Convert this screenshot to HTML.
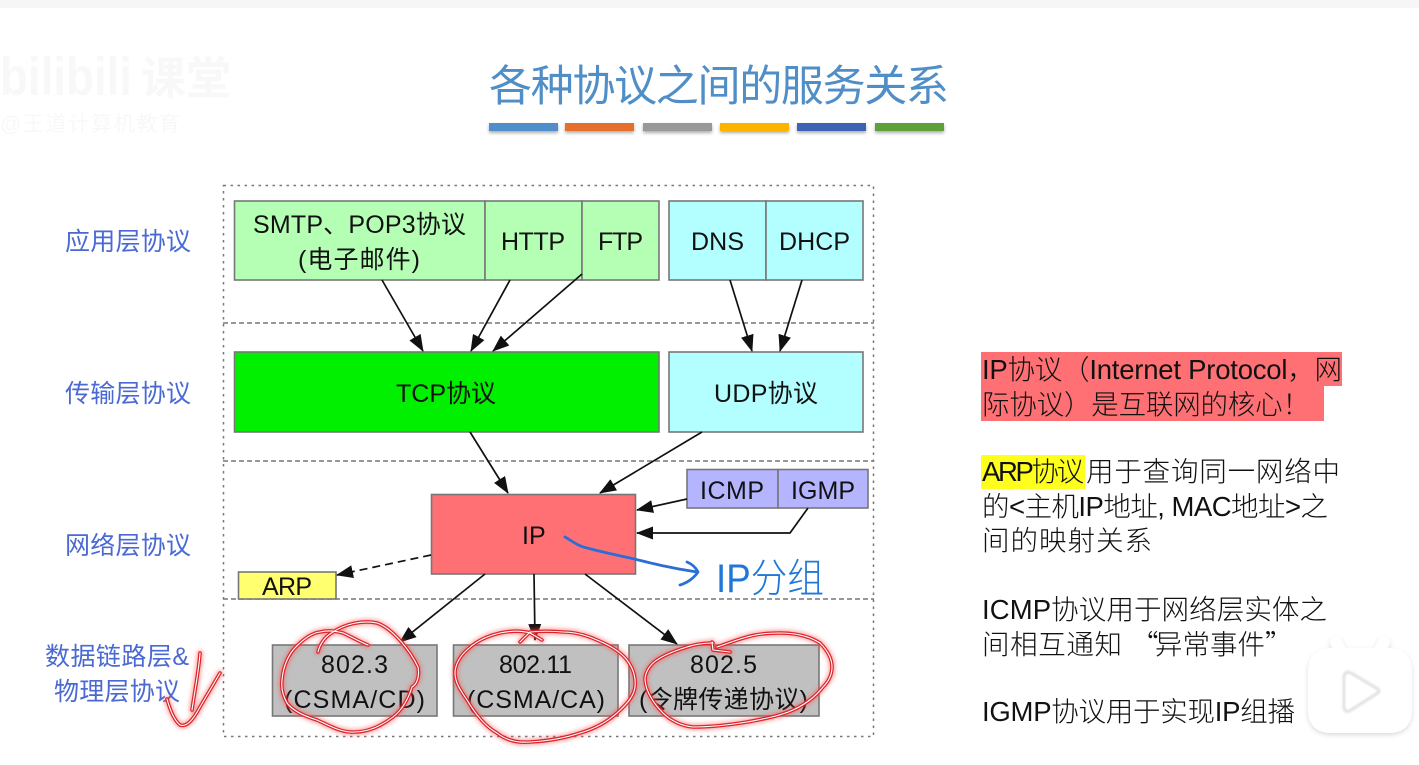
<!DOCTYPE html>
<html><head><meta charset="utf-8"><style>
html,body{margin:0;padding:0;background:#fff;width:1419px;height:765px;overflow:hidden}
svg{display:block}
text{font-family:"Liberation Sans","Noto Sans CJK SC",sans-serif}
.b{font-size:25px;fill:#111}
.l{font-size:25px;fill:#4a69d2}
.r{font-size:27.500px;fill:#111;font-weight:300}
.box{stroke:#777;stroke-width:1.6}
.ln{stroke:#111;stroke-width:1.7;fill:none}
.ink{fill:none;stroke-linecap:round;stroke-linejoin:round}
</style></head><body>
<svg width="1419" height="765" viewBox="0 0 1419 765" xmlns="http://www.w3.org/2000/svg">
<defs>
<marker id="a" viewBox="0 0 17 13" refX="16" refY="6.500" markerWidth="17" markerHeight="13" markerUnits="userSpaceOnUse" orient="auto"><path d="M0,0L17,6.500L0,13z" fill="#111"/></marker>
<filter id="gl" x="-20%" y="-20%" width="140%" height="140%"><feGaussianBlur stdDeviation="2"/></filter>
<filter id="sh" x="-10%" y="-50%" width="120%" height="250%"><feGaussianBlur stdDeviation="1.5"/></filter>
<filter id="tv" x="-20%" y="-20%" width="140%" height="140%"><feDropShadow dx="0" dy="2" stdDeviation="2.500" flood-color="#000" flood-opacity=".14"/></filter>
<filter id="tri" x="-30%" y="-30%" width="160%" height="160%"><feGaussianBlur stdDeviation="1.200"/></filter>
<path id="c1" d="M318,652C320,643 326,636 333,632C345,624 362,620 377,623C392,628 410,650 418,667C420,678 416,685 412,687C408,700 402,710 393,717C380,727 365,733 350,732C338,731 328,725 317,720C304,716 293,711 287,703C283,696 281,688 282,680C283,668 287,658 293,650C302,640 311,633 320,632C328,630 336,631 343,633C352,637 360,642 368,645"/>
<path id="c2" d="M542,640L530,633C520,630 510,631 500,633C487,636 475,642 467,650C460,656 455,665 455,673C455,683 461,691 467,700C476,715 486,727 497,733C507,741 518,743 530,742C548,741 565,738 580,733C594,729 607,722 617,713C627,704 634,696 635,687C636,677 633,668 627,660C620,651 609,645 597,640C586,635 575,632 563,632C552,631 541,631 530,632L520,642"/>
<path id="c3" d="M730,652L713,650L712,642L713,643C704,643 696,644 687,647C674,651 661,656 653,663C648,668 645,674 645,680C646,692 654,704 663,713C671,721 682,726 693,727C711,727 729,725 747,722C763,719 780,716 793,710C806,704 816,696 823,687C829,681 832,674 832,667C832,658 827,650 820,643C809,636 795,633 780,633C768,633 757,634 747,637C736,640 726,644 717,647"/>
<path id="c4" d="M167,699C170,710 174,720 180,725C186,727 192,722 200,707C207,695 214,683 220,673M200,653C199,670 194,695 192,710"/>
</defs>

<rect width="1419" height="8" fill="#f6f6f6"/>

<!-- watermark -->
<text x="0" y="95" font-size="54" font-weight="700" fill="#f8f8f8" textLength="132" lengthAdjust="spacingAndGlyphs">bilibili</text>
<text x="141" y="94" font-size="45" font-weight="700" fill="#f8f8f8" textLength="90">课堂</text>
<text x="0" y="131" font-size="21" fill="#f8f8f8" textLength="180">@王道计算机教育</text>

<!-- title -->
<text x="489" y="101" font-size="43" fill="#4f8ec6" font-weight="400" textLength="460">各种协议之间的服务关系</text>
<g filter="url(#sh)" fill="#888" opacity=".7">
<rect x="489" y="125" width="69" height="8"/><rect x="565" y="125" width="69" height="8"/><rect x="643" y="125" width="69" height="8"/><rect x="720" y="125" width="69" height="8"/><rect x="797" y="125" width="69" height="8"/><rect x="875" y="125" width="69" height="8"/>
</g>
<rect x="489" y="123" width="69" height="8" fill="#4e8ecb"/>
<rect x="565" y="123" width="69" height="8" fill="#e3702c"/>
<rect x="643" y="123" width="69" height="8" fill="#999"/>
<rect x="720" y="123" width="69" height="8" fill="#fdb400"/>
<rect x="797" y="123" width="69" height="8" fill="#3d63b6"/>
<rect x="875" y="123" width="69" height="8" fill="#5fa03c"/>

<!-- frames -->
<rect x="223.500" y="185.500" width="650" height="551" fill="none" stroke="#777" stroke-width="1.5" stroke-dasharray="2.500 4.500"/>
<g stroke="#777" stroke-width="1.500" stroke-dasharray="5 3">
<line x1="223" y1="323" x2="874" y2="323"/><line x1="223" y1="461" x2="874" y2="461"/><line x1="223" y1="599" x2="874" y2="599"/>
</g>

<!-- layer labels -->
<text class="l" x="65" y="250" textLength="126">应用层协议</text>
<text class="l" x="65" y="402" textLength="126">传输层协议</text>
<text class="l" x="65" y="554" textLength="126">网络层协议</text>
<text class="l" x="45" y="665" textLength="144">数据链路层&amp;</text>
<text class="l" x="54" y="700" textLength="126">物理层协议</text>

<!-- boxes -->
<g class="box">
<rect x="234.500" y="201" width="250.500" height="79" fill="#b5ffb5"/>
<rect x="485" y="201" width="97" height="79" fill="#b5ffb5"/>
<rect x="582" y="201" width="77" height="79" fill="#b5ffb5"/>
<rect x="669" y="201" width="97" height="79" fill="#b3ffff"/>
<rect x="766" y="201" width="97" height="79" fill="#b3ffff"/>
<rect x="234.500" y="352" width="424.500" height="80" fill="#00f000"/>
<rect x="669" y="352" width="194" height="80" fill="#b3ffff"/>
<rect x="431.500" y="494.500" width="204" height="79.500" fill="#ff7074"/>
<rect x="687" y="469.500" width="91" height="38.500" fill="#b4b4ff"/>
<rect x="778" y="469.500" width="90" height="38.500" fill="#b4b4ff"/>
<rect x="238.500" y="572" width="97.500" height="27" fill="#ffff70"/>
<rect x="272.500" y="645" width="164.500" height="71" fill="#c0c0c0"/>
<rect x="453.500" y="645" width="164.500" height="71" fill="#c0c0c0"/>
<rect x="629" y="645" width="190" height="71" fill="#c0c0c0"/>
</g>

<!-- box text -->
<text class="b" x="253" y="233" textLength="213">SMTP、POP3协议</text>
<text class="b" x="298" y="268" textLength="122">(电子邮件)</text>
<text class="b" x="501" y="250" textLength="64">HTTP</text>
<text class="b" x="598" y="250" textLength="45">FTP</text>
<text class="b" x="691" y="250" textLength="53">DNS</text>
<text class="b" x="779" y="250" textLength="71">DHCP</text>
<text class="b" x="396" y="402" textLength="100">TCP协议</text>
<text class="b" x="714" y="402" textLength="104">UDP协议</text>
<text class="b" x="522" y="544">IP</text>
<text class="b" x="700" y="499" textLength="64">ICMP</text>
<text class="b" x="791" y="499" textLength="64">IGMP</text>
<text class="b" x="262" y="595" textLength="50">ARP</text>
<text class="b" x="321" y="673" textLength="67">802.3</text>
<text class="b" x="284" y="708" textLength="141">(CSMA/CD)</text>
<text class="b" x="499" y="673" textLength="73">802.11</text>
<text class="b" x="467" y="708" textLength="138">(CSMA/CA)</text>
<text class="b" x="690" y="673" textLength="67">802.5</text>
<text class="b" x="639" y="708" textLength="169">(令牌传递协议)</text>

<!-- arrows -->
<g class="ln">
<line x1="382" y1="280" x2="423" y2="351" marker-end="url(#a)"/>
<line x1="510" y1="280" x2="471" y2="351" marker-end="url(#a)"/>
<line x1="582" y1="274" x2="493" y2="351" marker-end="url(#a)"/>
<line x1="730" y1="280" x2="752" y2="351" marker-end="url(#a)"/>
<line x1="802" y1="280" x2="780" y2="351" marker-end="url(#a)"/>
<line x1="470" y1="432" x2="508" y2="493" marker-end="url(#a)"/>
<line x1="702" y1="432" x2="600" y2="493" marker-end="url(#a)"/>
<line x1="687" y1="499" x2="637" y2="510" marker-end="url(#a)"/>
<polyline points="808,508 790,533 637,533" marker-end="url(#a)"/>
<line x1="485" y1="574" x2="400" y2="642" marker-end="url(#a)"/>
<line x1="534" y1="574" x2="535" y2="640" marker-end="url(#a)"/>
<line x1="585" y1="574" x2="677" y2="644" marker-end="url(#a)"/>
<line x1="431" y1="555" x2="337" y2="575" stroke-dasharray="8 5" marker-end="url(#a)"/>
</g>

<!-- blue ink -->
<path class="ink" d="M565,537C572,541 578,546 587,548C602,552 616,555 630,558C650,563 670,568 697,572M687,562C692,564 696,568 698,572C694,578 687,583 680,585" stroke="#2a6ed6" stroke-width="2.800"/>
<text x="716" y="592" font-size="40" fill="#1f78d8" font-weight="300" textLength="108" lengthAdjust="spacingAndGlyphs">IP分组</text>

<!-- red ink -->
<g class="ink" stroke="#ff5050" stroke-width="6" opacity=".55" filter="url(#gl)"><use href="#c1"/><use href="#c2"/><use href="#c3"/><use href="#c4"/></g>
<g class="ink" stroke="#d8262c" stroke-width="3.600"><use href="#c1"/><use href="#c2"/><use href="#c3"/><use href="#c4"/></g>
<g class="ink" stroke="#fff" stroke-width="1.100"><use href="#c1"/><use href="#c2"/><use href="#c3"/><use href="#c4"/></g>

<!-- right notes -->
<rect x="981" y="352" width="361" height="34" fill="#ff7074"/>
<rect x="981" y="386" width="343" height="35" fill="#ff7074"/>
<rect x="981" y="455" width="104" height="34" fill="#ffff1e"/>
<text class="r" x="982" y="379" textLength="360">IP协议（Internet Protocol，网</text>
<text class="r" x="982" y="414" textLength="328">际协议）是互联网的核心！</text>
<text class="r" x="982" y="481" textLength="102">ARP协议</text>
<text class="r" x="1086" y="481" textLength="254">用于查询同一网络中</text>
<text class="r" x="982" y="516" textLength="346">的&lt;主机IP地址, MAC地址&gt;之</text>
<text class="r" x="982" y="550" textLength="170">间的映射关系</text>
<text class="r" x="982" y="619" textLength="345">ICMP协议用于网络层实体之</text>
<text class="r" x="982" y="654" textLength="140">间相互通知</text>
<text class="r" x="1131" y="654" style='font-family:"Noto Sans CJK SC",sans-serif'>“</text>
<text class="r" x="1155" y="654" textLength="110">异常事件</text>
<text class="r" x="1265" y="654" style='font-family:"Noto Sans CJK SC",sans-serif'>”</text>
<text class="r" x="982" y="721" textLength="313">IGMP协议用于实现IP组播</text>

<!-- TV icon -->
<g filter="url(#tv)">
<path d="M1340,650L1336,642" stroke="#fff" stroke-width="12" stroke-linecap="round"/>
<path d="M1380,650L1384,642" stroke="#fff" stroke-width="12" stroke-linecap="round"/>
<path d="M1332,648H1388C1404,648 1412,656 1412,672V709C1412,725 1404,733 1388,733H1332C1316,733 1308,725 1308,709V672C1308,656 1316,648 1332,648Z" fill="#fff"/>
</g>
<path d="M1344,677C1344,673 1347,671 1351,673L1376,688C1380,690 1380,692 1376,694L1351,710C1347,713 1344,711 1344,707Z" fill="#fff" stroke="#d0d0d0" stroke-width="2" filter="url(#tri)"/>
<path d="M1346,678C1346,675 1348,674 1351,676L1373,689C1376,691 1376,692 1373,693L1351,707C1348,709 1346,708 1346,705Z" fill="#fff"/>
</svg>
</body></html>
